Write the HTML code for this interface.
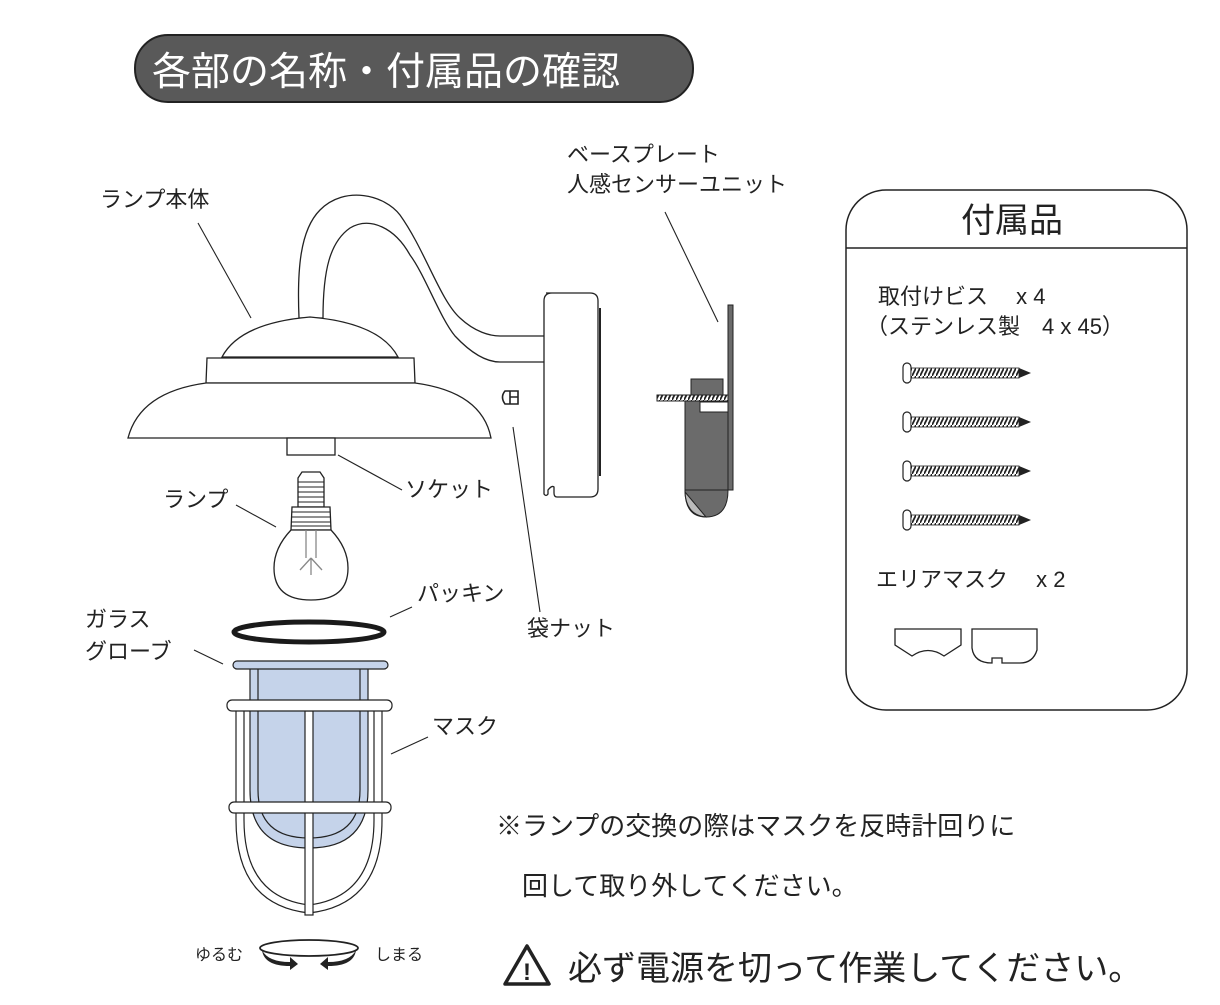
<!DOCTYPE html>
<html><head><meta charset="utf-8"><style>
html,body{margin:0;padding:0;background:#fff;}
svg{display:block;font-family:"Liberation Sans","Noto Sans CJK JP",sans-serif;}
</style></head><body>
<svg width="1220" height="1005" viewBox="0 0 1220 1005" xmlns="http://www.w3.org/2000/svg">
<defs>
<pattern id="thr" width="4" height="8" patternUnits="userSpaceOnUse">
<rect width="4" height="8" fill="#fff"/><path d="M0,8 L4,0" stroke="#222" stroke-width="1.8"/>
</pattern>
</defs>
<rect x="135" y="35" width="558" height="67" rx="33" fill="#595959" stroke="#222" stroke-width="2"/>
<text x="152" y="85" font-size="39" fill="#fff">各部の名称・付属品の確認</text>

<rect x="846" y="190" width="341" height="520" rx="40" fill="none" stroke="#222" stroke-width="1.5"/>
<line x1="846" y1="248" x2="1187" y2="248" stroke="#222" stroke-width="1.5"/>
<text x="1012" y="232" font-size="34" text-anchor="middle" fill="#222">付属品</text>
<text x="878" y="304" font-size="22" fill="#222">取付けビス　 x 4</text>
<text x="866" y="334" font-size="22" fill="#222">（ステンレス製　4 x 45）</text>
<g id="sc">
<rect x="903" y="363" width="8" height="20" rx="4" fill="#fff" stroke="#222" stroke-width="1.2"/>
<rect x="911" y="368" width="108" height="10" fill="url(#thr)" stroke="#222" stroke-width="0.8"/>
<path d="M1019,368 L1031,373 L1019,378 Z" fill="#222"/>
</g>
<use href="#sc" y="49"/><use href="#sc" y="98"/><use href="#sc" y="147"/>
<text x="876" y="587" font-size="22" fill="#222">エリアマスク　 x 2</text>
<path d="M895,629 L961,629 L961,645 L944,656 Q928,645 912,656 L895,645 Z" fill="#fff" stroke="#222" stroke-width="1.3"/>
<path d="M972,629 L1037,629 L1037,650 Q1033,663 1020,663 L1002,663 L1002,658 L992,658 L992,663 Q974,663 972,648 Z" fill="#fff" stroke="#222" stroke-width="1.3"/>

<g fill="#fff" stroke="#222" stroke-width="1.3">
<path d="M299,318 C297,270 300,230 320,210 C345,185 385,195 400,215 C425,250 440,300 460,318 C475,332 490,336 500,336 L546,336 L546,362 L500,362 C485,362 470,352 455,336 C440,318 425,275 410,255 C395,228 370,216 350,228 C330,242 323,270 323,318 Z"/>
<path d="M546,293 L590,293 Q598,293 598,301 L598,489 Q598,497 590,497 L557,497 Q554,497 554,493 L554,487 Q552,485 548,490 L548,494 Q546,497 544,494 L544,301 Q544,293 552,293 Z"/>
<line x1="600" y1="308" x2="600" y2="476" stroke-width="2"/>
<path d="M222,357 Q240,323 310,317 Q380,323 398,357 Z"/>
<path d="M207,358 L414,358 L415,383 L206,383 Z"/>
<path d="M128,438 Q140,392 206,383 L415,383 Q482,392 491,438 Z"/>
<rect x="287" y="438" width="48" height="17"/>
<path d="M298,478 L302,472 L320,472 L324,478 L324,507 L298,507 Z"/>
<path d="M292,507 L330,507 L331,530 L291,530 Z"/>
<path d="M291,530 L331,530 Q348,548 348,568 Q348,600 311,600 Q274,600 274,568 Q274,548 291,530 Z"/>
<path d="M306,530 L306,558 M316,530 L316,558 M311,558 L300,570 M311,558 L322,570 M311,558 L311,575" stroke="#888"/>
<path d="M505,391 L518,391 L518,404 L505,404 Q500,397 505,391 Z M510,391 L510,404 M510,397 L518,397" stroke-width="1.6"/>
</g>
<g stroke="#222" stroke-width="0.9"><line x1="298" y1="482" x2="324" y2="482"/><line x1="298" y1="487" x2="324" y2="487"/><line x1="298" y1="492" x2="324" y2="492"/><line x1="298" y1="497" x2="324" y2="497"/><line x1="298" y1="502" x2="324" y2="502"/><line x1="292" y1="512" x2="330" y2="512"/><line x1="292" y1="517" x2="330" y2="517"/><line x1="291" y1="522" x2="331" y2="522"/><line x1="291" y1="526" x2="331" y2="526"/></g>

<g stroke="#222" stroke-width="1">
<rect x="728" y="305" width="5" height="185" fill="#6b6b6b"/>
<rect x="691" y="379" width="32" height="18" fill="#6b6b6b"/>
<rect x="685" y="397" width="43" height="93" fill="#6b6b6b"/>
<rect x="700" y="402" width="28" height="10" fill="#fff"/>
<rect x="657" y="395" width="71" height="6" fill="url(#thr)"/>
<path d="M685,490 L728,490 Q728,517 706,517 Q685,517 685,490 Z" fill="#6b6b6b"/>
<path d="M685,492 L706,517 Q686,515 685,492 Z" fill="#bbb"/>
</g>

<ellipse cx="309" cy="632" rx="75" ry="10" fill="none" stroke="#1a1a1a" stroke-width="5"/>
<g stroke="#222" stroke-width="1.2">
<path d="M250,668 L368,668 L368,790 Q368,848 309,848 Q250,848 250,790 Z" fill="#c5d3ea"/>
<path d="M258,668 L258,790 Q258,838 309,838 Q360,838 360,790 L360,668" fill="none"/>
<rect x="233" y="661" width="155" height="8" rx="4" fill="#c5d3ea"/>
<path d="M236,711 L236,820 Q236,905 309,913 Q382,905 382,820 L382,711" fill="none"/>
<path d="M244,711 L244,820 Q244,897 309,905 Q374,897 374,820 L374,711" fill="none"/>
<rect x="305" y="711" width="8" height="204" fill="#fff"/>
<rect x="227" y="700" width="165" height="11" rx="5" fill="#fff"/>
<rect x="229" y="802" width="162" height="11" rx="5" fill="#fff"/>
</g>
<ellipse cx="309" cy="948" rx="49" ry="8" fill="none" stroke="#222" stroke-width="1.8"/>
<path d="M262,950 Q268,962 290,962 L290,957 L298,964 L290,970 L290,966 Q264,966 262,950 Z" fill="#222"/>
<path d="M356,950 Q350,962 328,962 L328,957 L320,964 L328,970 L328,966 Q354,966 356,950 Z" fill="#222"/>
<text x="195" y="960" font-size="16" fill="#222">ゆるむ</text>
<text x="375" y="960" font-size="16" fill="#222">しまる</text>

<g stroke="#222" stroke-width="1.1">
<line x1="198" y1="223" x2="251" y2="318"/>
<line x1="665" y1="212" x2="718" y2="322"/>
<line x1="338" y1="455" x2="402" y2="490"/>
<line x1="236" y1="505" x2="276" y2="527"/>
<line x1="390" y1="617" x2="412" y2="607"/>
<line x1="513" y1="427" x2="540" y2="612"/>
<line x1="194" y1="650" x2="223" y2="664"/>
<line x1="391" y1="754" x2="428" y2="737"/>
</g>
<g font-size="22" fill="#222">
<text x="100" y="207">ランプ本体</text>
<text x="567" y="162">ベースプレート</text>
<text x="567" y="192">人感センサーユニット</text>
<text x="405" y="497">ソケット</text>
<text x="163" y="507">ランプ</text>
<text x="417" y="601">パッキン</text>
<text x="527" y="636">袋ナット</text>
<text x="85" y="627">ガラス</text>
<text x="85" y="659">グローブ</text>
<text x="432" y="734">マスク</text>
</g>
<text x="496" y="835" font-size="26" fill="#222">※ランプの交換の際はマスクを反時計回りに</text>
<text x="522" y="895" font-size="26" fill="#222">回して取り外してください。</text>
<path d="M527,946 L549,984 L505,984 Z" fill="none" stroke="#222" stroke-width="3.5" stroke-linejoin="round"/>
<text x="527" y="980" font-size="24" font-weight="bold" text-anchor="middle" fill="#222">!</text>
<text x="568" y="980" font-size="34" fill="#222">必ず電源を切って作業してください。</text>
</svg>
</body></html>
